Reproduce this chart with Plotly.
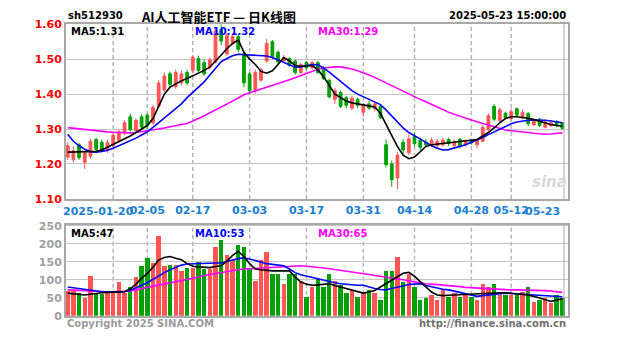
import plotly.graph_objects as go

dates = ["2025-01-08","2025-01-09","2025-01-10","2025-01-13","2025-01-14","2025-01-15","2025-01-16","2025-01-17","2025-01-20","2025-01-21",
         "2025-01-22","2025-01-23","2025-01-24","2025-01-27","2025-02-05","2025-02-06","2025-02-07","2025-02-10","2025-02-11","2025-02-12",
         "2025-02-13","2025-02-14","2025-02-17","2025-02-18","2025-02-19","2025-02-20","2025-02-21","2025-02-24","2025-02-25","2025-02-26",
         "2025-02-27","2025-02-28","2025-03-03","2025-03-04","2025-03-05","2025-03-06","2025-03-07","2025-03-10","2025-03-11","2025-03-12",
         "2025-03-13","2025-03-14","2025-03-17","2025-03-18","2025-03-19","2025-03-20","2025-03-21","2025-03-24","2025-03-25","2025-03-26",
         "2025-03-27","2025-03-28","2025-03-31","2025-04-01","2025-04-02","2025-04-03","2025-04-07","2025-04-08","2025-04-09","2025-04-10",
         "2025-04-11","2025-04-14","2025-04-15","2025-04-16","2025-04-17","2025-04-18","2025-04-21","2025-04-22","2025-04-23","2025-04-24",
         "2025-04-25","2025-04-28","2025-04-29","2025-04-30","2025-05-06","2025-05-07","2025-05-08","2025-05-09","2025-05-12","2025-05-13",
         "2025-05-14","2025-05-15","2025-05-16","2025-05-19","2025-05-20","2025-05-21","2025-05-22","2025-05-23"]

open_ = [1.220,1.212,1.255,1.205,1.222,1.270,1.262,1.238,1.252,1.268,
         1.288,1.335,1.296,1.335,1.340,1.318,1.365,1.412,1.458,1.422,
         1.432,1.462,1.468,1.502,1.490,1.478,1.492,1.585,1.515,1.545,
         1.565,1.515,1.458,1.410,1.440,1.495,1.550,1.520,1.495,1.502,
         1.495,1.462,1.490,1.475,1.490,1.475,1.440,1.385,1.405,1.390,
         1.360,1.385,1.348,1.372,1.358,1.365,1.255,1.200,1.160,1.262,
         1.232,1.278,1.268,1.262,1.252,1.252,1.255,1.270,1.252,1.270,
         1.255,1.268,1.255,1.265,1.298,1.365,1.325,1.345,1.330,1.358,
         1.332,1.345,1.312,1.328,1.305,1.310,1.322,1.318]
high = [1.262,1.250,1.260,1.238,1.272,1.275,1.270,1.270,1.288,1.298,
        1.325,1.345,1.330,1.342,1.345,1.370,1.440,1.462,1.465,1.470,
        1.468,1.470,1.510,1.510,1.498,1.505,1.592,1.600,1.575,1.572,
        1.572,1.520,1.462,1.470,1.475,1.558,1.555,1.525,1.512,1.505,
        1.498,1.490,1.495,1.495,1.495,1.480,1.442,1.418,1.410,1.395,
        1.395,1.390,1.375,1.380,1.378,1.368,1.270,1.210,1.235,1.272,
        1.285,1.290,1.275,1.272,1.275,1.272,1.275,1.275,1.270,1.275,
        1.270,1.272,1.272,1.310,1.345,1.372,1.362,1.350,1.358,1.362,
        1.355,1.348,1.330,1.332,1.325,1.325,1.325,1.320]
low = [1.212,1.205,1.212,1.186,1.215,1.238,1.235,1.232,1.248,1.262,
       1.282,1.292,1.290,1.300,1.300,1.312,1.360,1.405,1.420,1.415,
       1.425,1.425,1.460,1.462,1.452,1.470,1.488,1.540,1.510,1.540,
       1.520,1.420,1.402,1.402,1.435,1.490,1.500,1.488,1.490,1.478,
       1.455,1.458,1.470,1.470,1.458,1.440,1.388,1.372,1.360,1.360,
       1.355,1.360,1.335,1.355,1.350,1.328,1.190,1.135,1.128,1.228,
       1.225,1.250,1.240,1.248,1.248,1.245,1.250,1.252,1.245,1.245,
       1.250,1.255,1.245,1.262,1.292,1.322,1.320,1.328,1.325,1.335,
       1.328,1.308,1.308,1.305,1.302,1.305,1.305,1.298]
close = [1.252,1.238,1.218,1.232,1.265,1.242,1.240,1.262,1.282,1.292,
         1.318,1.298,1.325,1.306,1.310,1.362,1.432,1.452,1.428,1.462,
         1.458,1.432,1.505,1.468,1.458,1.498,1.582,1.552,1.568,1.565,
         1.528,1.432,1.410,1.462,1.470,1.545,1.508,1.492,1.505,1.482,
         1.462,1.485,1.475,1.490,1.462,1.445,1.392,1.410,1.365,1.368,
         1.388,1.368,1.370,1.360,1.372,1.332,1.198,1.155,1.225,1.240,
         1.272,1.258,1.248,1.255,1.268,1.265,1.268,1.258,1.262,1.250,
         1.265,1.260,1.268,1.305,1.338,1.328,1.355,1.332,1.350,1.340,
         1.348,1.315,1.325,1.310,1.320,1.318,1.310,1.302]

ma5 = [1.234,1.234,1.234,1.234,1.234,1.236,1.240,1.248,1.255,1.262,
       1.270,1.280,1.290,1.300,1.310,1.330,1.365,1.400,1.420,1.430,
       1.438,1.445,1.452,1.460,1.468,1.477,1.495,1.514,1.530,1.545,
       1.555,1.520,1.500,1.485,1.465,1.460,1.467,1.485,1.505,1.495,
       1.482,1.480,1.482,1.482,1.470,1.450,1.425,1.400,1.390,1.380,
       1.375,1.372,1.368,1.365,1.363,1.345,1.313,1.280,1.250,1.225,
       1.215,1.220,1.235,1.250,1.255,1.257,1.258,1.260,1.262,1.264,
       1.266,1.267,1.270,1.280,1.290,1.303,1.318,1.330,1.335,1.335,
       1.334,1.331,1.327,1.322,1.317,1.313,1.310,1.308]
ma10 = [1.285,1.265,1.252,1.242,1.235,1.234,1.236,1.239,1.245,1.252,
        1.259,1.266,1.274,1.283,1.292,1.305,1.318,1.332,1.346,1.358,
        1.372,1.390,1.405,1.420,1.435,1.455,1.475,1.493,1.502,1.510,
        1.514,1.513,1.512,1.511,1.510,1.509,1.505,1.498,1.490,1.483,
        1.477,1.478,1.481,1.485,1.484,1.475,1.463,1.450,1.437,1.422,
        1.410,1.400,1.392,1.385,1.378,1.370,1.355,1.338,1.320,1.303,
        1.290,1.282,1.272,1.262,1.252,1.245,1.240,1.241,1.245,1.250,
        1.255,1.262,1.268,1.276,1.284,1.292,1.300,1.308,1.315,1.320,
        1.323,1.325,1.326,1.326,1.325,1.323,1.321,1.318]
ma30 = [1.304,1.302,1.300,1.298,1.296,1.294,1.293,1.292,1.291,1.290,
        1.289,1.289,1.290,1.292,1.294,1.297,1.300,1.303,1.307,1.310,
        1.313,1.316,1.322,1.330,1.338,1.346,1.354,1.362,1.371,1.380,
        1.389,1.398,1.404,1.409,1.414,1.419,1.424,1.429,1.435,1.441,
        1.447,1.453,1.460,1.466,1.471,1.475,1.477,1.478,1.478,1.476,
        1.472,1.467,1.462,1.455,1.448,1.440,1.432,1.424,1.415,1.407,
        1.400,1.392,1.385,1.378,1.370,1.363,1.355,1.348,1.342,1.336,
        1.331,1.326,1.321,1.316,1.311,1.305,1.300,1.297,1.295,1.294,
        1.292,1.290,1.288,1.286,1.285,1.286,1.287,1.289]

volume = [70,72,63,50,112,63,62,63,63,94,
          63,80,107,139,161,147,223,140,143,143,
          125,134,134,150,130,130,192,210,170,156,
          197,193,134,98,156,179,116,116,89,116,
          116,98,54,80,103,80,116,98,85,63,
          72,54,67,72,63,45,125,125,165,94,
          116,80,45,49,58,45,72,54,63,54,
          58,54,45,89,80,89,58,58,58,58,
          67,80,40,45,49,36,58,50]
vma5 = [63,62,60,58,60,63,64,65,66,66,
        67,75,88,104,118,135,155,162,165,160,
        156,145,138,136,135,134,137,139,152,168,
        179,165,145,130,128,126,125,125,125,125,
        108,94,88,85,86,87,89,84,80,76,
        72,67,63,66,70,80,90,98,110,118,
        121,110,95,80,66,58,56,57,58,58,
        58,60,61,63,64,64,64,64,63,62,
        60,58,54,49,44,40,44,47]
vma10 = [80,78,76,73,71,68,67,67,67,67,
         67,71,77,85,92,102,112,120,128,135,
         141,144,145,146,147,147,147,147,150,155,
         159,161,158,153,148,145,143,141,139,130,
         120,114,110,107,104,100,95,92,89,87,
         86,85,85,80,76,73,72,76,80,84,
         87,88,89,84,80,77,74,72,68,64,
         60,57,54,56,58,60,62,63,62,61,
         60,58,57,56,55,54,54,53]
vma30 = [72,71,70,69,68,67,67,67,67,67,
         67,69,72,76,80,83,86,88,91,94,
         97,100,104,108,112,115,117,120,123,126,
         128,130,131,132,134,135,136,137,138,139,
         139,139,138,137,135,133,131,129,127,125,
         123,120,117,115,112,110,108,105,103,100,
         97,94,91,89,88,87,86,85,83,81,
         79,78,76,75,74,73,73,72,72,72,
         72,72,72,71,70,69,67,65]

first_date = "2025-01-20"
first_label = "2025-01-20"
tick_dates = ["2025-02-05","2025-02-17","2025-03-03","2025-03-17",
              "2025-03-31","2025-04-14","2025-04-28","2025-05-12"]
tick_text = ["02-05","02-17","03-03","03-17","03-31","04-14","04-28","05-12"]
last_label = "05-23"
price_ticks = [1.10, 1.20, 1.30, 1.40, 1.50, 1.60]
vol_ticks = [0, 50, 100, 150, 200, 250]

W, H = 627, 342
UP, DOWN = "#FF5555", "#00A000"
C5, C10, C30 = "#000000", "#0000FF", "#FF00FF"
DATE_COL = "#1A7FD0"

idx = list(range(len(dates)))
first_idx = dates.index(first_date)
tickvals = [dates.index(d) for d in tick_dates]
grid_vals = [first_idx] + tickvals
bar_colors = [UP if c >= o else DOWN for o, c in zip(open_, close)]

def fx(p):
    return p / W

def fy(p):
    return 1 - p / H

fig = go.Figure()
fig.add_trace(go.Candlestick(
    x=idx, open=open_, high=high, low=low, close=close,
    increasing=dict(line=dict(color=UP, width=1), fillcolor=UP),
    decreasing=dict(line=dict(color=DOWN, width=1), fillcolor=DOWN),
    whiskerwidth=0, xaxis="x", yaxis="y", hoverinfo="skip"))
for arr, col in [(ma30, C30), (ma10, C10), (ma5, C5)]:
    fig.add_trace(go.Scatter(x=idx, y=arr, mode="lines", line=dict(color=col, width=1.6),
                             xaxis="x", yaxis="y", hoverinfo="skip"))

fig.add_trace(go.Bar(x=idx, y=volume, marker=dict(color=bar_colors, line=dict(width=0)),
                     width=0.78, xaxis="x2", yaxis="y2", hoverinfo="skip"))
for arr, col in [(vma30, C30), (vma10, C10), (vma5, C5)]:
    fig.add_trace(go.Scatter(x=idx, y=arr, mode="lines", line=dict(color=col, width=1.6),
                             xaxis="x2", yaxis="y2", hoverinfo="skip"))

xdom = [fx(66), fx(568)]
xrange = [-0.3, 88.0]
axis_line = dict(showline=True, mirror=True, linecolor="#A8A8A8", linewidth=2)

fig.update_layout(
    width=W, height=H, margin=dict(l=0, r=0, t=0, b=0),
    paper_bgcolor="white", plot_bgcolor="white", showlegend=False,
    font=dict(family="DejaVu Sans"),
    xaxis=dict(domain=xdom, range=xrange, anchor="y", showgrid=False, zeroline=False,
               tickmode="array", tickvals=tickvals, ticktext=tick_text, ticks="",
               tickangle=0,
               tickfont=dict(color=DATE_COL, size=11, weight="bold"),
               rangeslider=dict(visible=False), **axis_line),
    yaxis=dict(domain=[fy(200.5), fy(19)], range=[1.10, 1.60], anchor="x",
               tickmode="array", tickvals=price_ticks, ticktext=[f"{v:.2f}" for v in price_ticks],
               tickfont=dict(color="#FF0000", size=11, weight="bold"), ticks="",
               showgrid=True, gridcolor="#C4C4C4", gridwidth=1, zeroline=False, **axis_line),
    xaxis2=dict(domain=xdom, range=xrange, anchor="y2", showgrid=False, zeroline=False,
                showticklabels=False, ticks="", **axis_line),
    yaxis2=dict(domain=[fy(322), fy(227.5)], range=[0, 253], anchor="x2",
                tickmode="array", tickvals=vol_ticks, ticktext=[str(v) for v in vol_ticks],
                tickfont=dict(color="#A0A0A0", size=11, weight="bold"), ticks="",
                showgrid=True, gridcolor="#C4C4C4", gridwidth=1, zeroline=False, **axis_line),
    bargap=0,
)

shapes = []
for tv in grid_vals:
    for xr, yr in [("x", "y domain"), ("x2", "y2 domain")]:
        shapes.append(dict(type="line", xref=xr, yref=yr, x0=tv, x1=tv, y0=0, y1=1,
                           line=dict(color="#B4B4B4", width=1.5, dash="4px,3px"), layer="below"))
for y0, y1 in [(fy(200.5), fy(19)), (fy(322), fy(227.5))]:
    shapes.append(dict(type="line", xref="paper", yref="paper", x0=fx(564), x1=fx(564), y0=y0, y1=y1,
                       line=dict(color="#A8A8A8", width=1)))
fig.update_layout(shapes=shapes)

ann = []
def txt(x, y, s, color, size=10, xanchor="left", bold=True, family="DejaVu Sans"):
    ann.append(dict(x=fx(x), y=fy(y), xref="paper", yref="paper", text=s, showarrow=False,
                    xanchor=xanchor, yanchor="middle",
                    font=dict(color=color, size=size, family=family, weight="bold" if bold else "normal")))

txt(66, 10, "sh512930", "#000000", 10)
txt(218, 11, "AI人工智能ETF — 日K线图", "#000000", 13, xanchor="center", family="Noto Sans CJK SC")
txt(568, 10, "2025-05-23 15:00:00", "#000000", 10, xanchor="right")
txt(69, 27, f"MA5:{ma5[-1]:.2f}", C5, 10)
txt(193, 27, f"MA10:{ma10[-1]:.2f}", C10, 10)
txt(316, 27, f"MA30:{ma30[-1]:.2f}", C30, 10)
txt(69, 236, f"MA5:{vma5[-1]}", C5, 10)
txt(193, 236, f"MA10:{vma10[-1]}", C10, 10)
txt(316, 236, f"MA30:{vma30[-1]}", C30, 10)
txt(65, 330, "Copyright 2025 SINA.COM", "#9A9A9A", 10)
txt(568, 330, "http://finance.sina.com.cn", "#707070", 10, xanchor="right")
txt(549, 183, "<i>sina</i>", "#D8D8D8", 15, xanchor="center")
date_font = dict(color=DATE_COL, size=11, family="DejaVu Sans", weight="bold")
# first date label: nudged left so it sits just before the 02-05 label
ann.append(dict(x=first_idx, y=0, xref="x", yref="y domain", text=first_label, showarrow=False,
                xanchor="center", yanchor="top", xshift=-15, yshift=-4, font=date_font))
ann.append(dict(x=idx[-1], y=0, xref="x", yref="y domain", text=last_label, showarrow=False,
                xanchor="right", yanchor="top", yshift=-4, font=date_font))
fig.update_layout(annotations=ann)

fig.write_html("out.html")
